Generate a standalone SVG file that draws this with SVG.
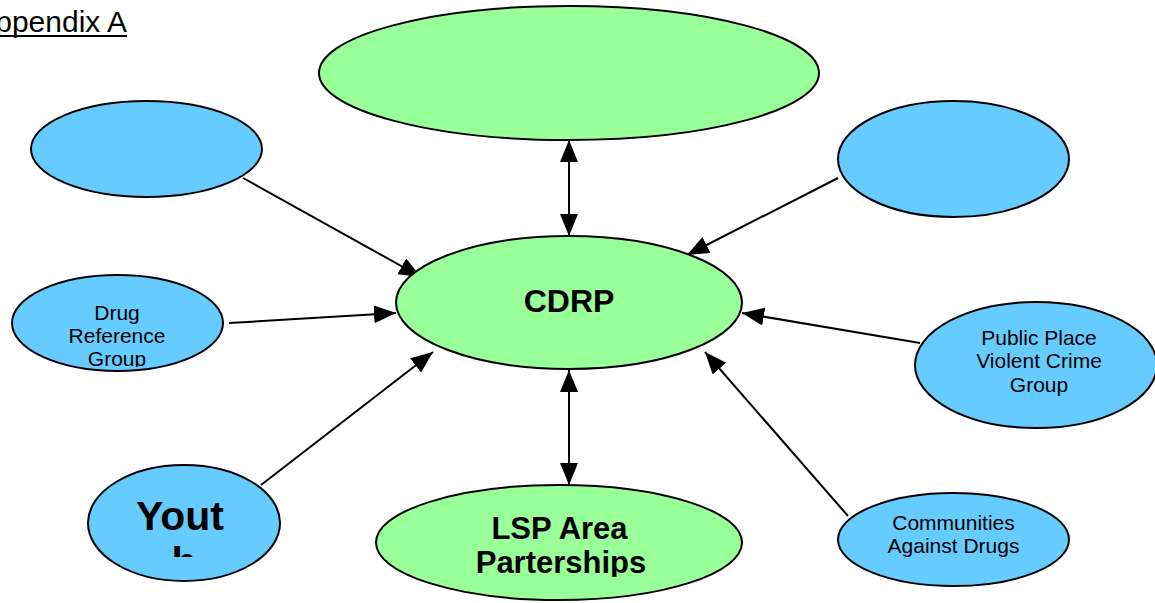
<svg xmlns="http://www.w3.org/2000/svg" width="1155" height="603" viewBox="0 0 1155 603">
<style>
.g{fill:#99FF99;stroke:#000;stroke-width:2}
.b{fill:#66CCFF;stroke:#000;stroke-width:2}
.t{font-family:"Liberation Sans",Arial,sans-serif;fill:#000;text-anchor:middle}
.s{font-size:21px}
.bold{font-weight:bold}
.c line{stroke:#000;stroke-width:2}
</style>
<defs>
<marker id="ah" markerUnits="userSpaceOnUse" markerWidth="24" markerHeight="20" refX="22" refY="9" orient="auto-start-reverse" viewBox="0 0 24 20">
<path d="M0,0 L22,9 L0,18 z" fill="#000"/>
</marker>
<clipPath id="cDrug"><rect x="0" y="270" width="240" height="97"/></clipPath>
<clipPath id="cYouth"><rect x="80" y="460" width="210" height="97"/></clipPath>
<clipPath id="cLsp"><rect x="370" y="480" width="380" height="97"/></clipPath>
</defs>
<rect width="1155" height="603" fill="#fff"/>
<g id="title">
<text class="t" x="127" y="32" style="font-size:30px;text-anchor:end">ppendix A</text>
<line x1="0" y1="36" x2="127" y2="36" stroke="#000" stroke-width="2"/>
</g>
<g class="c" id="connectors">
<line x1="569" y1="140" x2="569" y2="236" marker-start="url(#ah)" marker-end="url(#ah)"/>
<line x1="569" y1="370" x2="569" y2="485" marker-start="url(#ah)" marker-end="url(#ah)"/>
<line x1="243" y1="178" x2="421" y2="277" marker-end="url(#ah)"/>
<line x1="838" y1="178" x2="687" y2="255" marker-end="url(#ah)"/>
<line x1="229" y1="323" x2="396" y2="313" marker-end="url(#ah)"/>
<line x1="261" y1="485" x2="433" y2="352" marker-end="url(#ah)"/>
<line x1="920" y1="343" x2="742" y2="313" marker-end="url(#ah)"/>
<line x1="848" y1="516" x2="705" y2="352" marker-end="url(#ah)"/>
</g>
<g id="top"><ellipse class="g" cx="569" cy="73" rx="250" ry="67"/></g>
<g id="topLeft"><ellipse class="b" cx="146.5" cy="149" rx="115.5" ry="48"/></g>
<g id="topRight"><ellipse class="b" cx="953.5" cy="159" rx="115.5" ry="58"/></g>
<g id="cdrp"><ellipse class="g" cx="569" cy="302.5" rx="173" ry="66.5"/>
<text class="t bold" x="569" y="312" style="font-size:32px">CDRP</text></g>
<g id="drug"><ellipse class="b" cx="117.5" cy="323" rx="105.5" ry="48"/>
<g clip-path="url(#cDrug)"><text class="t s" x="117" y="320">Drug</text>
<text class="t s" x="117" y="343">Reference</text>
<text class="t s" x="117" y="366">Group</text></g></g>
<g id="public"><ellipse class="b" cx="1036" cy="365" rx="121" ry="63"/>
<text class="t s" x="1039" y="345">Public Place</text>
<text class="t s" x="1039" y="368">Violent Crime</text>
<text class="t s" x="1039" y="392">Group</text></g>
<g id="youth"><ellipse class="b" cx="184" cy="523" rx="96" ry="58"/>
<g clip-path="url(#cYouth)"><text class="t bold" x="180" y="530" style="font-size:41px">Yout</text>
<text class="t bold" x="184" y="576" style="font-size:41px">h</text></g></g>
<g id="lsp"><ellipse class="g" cx="559" cy="542.5" rx="183" ry="57.5"/>
<g clip-path="url(#cLsp)"><text class="t bold" x="559.5" y="539" style="font-size:31px">LSP Area</text>
<text class="t bold" x="561" y="573" style="font-size:31px">Parterships</text></g></g>
<g id="communities"><ellipse class="b" cx="953.5" cy="539.5" rx="115.5" ry="46.5"/>
<text class="t s" x="953.5" y="530">Communities</text>
<text class="t s" x="953.5" y="553">Against Drugs</text></g>
</svg>
